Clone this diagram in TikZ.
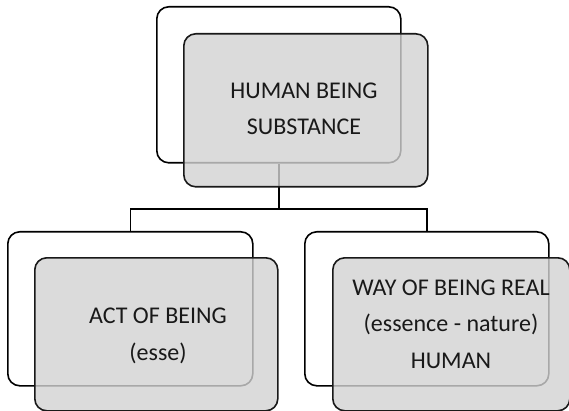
\documentclass[tikz,border=0pt]{standalone}
\usepackage{fontspec}
\setmainfont{Carlito}
\begin{document}
\begin{tikzpicture}[x=1pt,y=-1pt,
  backbox/.style={draw=black, line width=1.6pt, rounded corners=12pt, fill=white,
    anchor=north west, inner sep=0pt},
  frontbox/.style={draw=black!90, line width=1.6pt, rounded corners=12pt,
    fill={rgb,255:red,210;green,210;blue,210}, fill opacity=0.8,
    anchor=north west, inner sep=0pt},
  boxtext/.style={align=center, font=\fontsize{24}{36.5}\selectfont, text=black!90},
  link/.style={draw=black, line width=1.6pt}]
\useasboundingbox (0,0) rectangle (569,411);

% back frames
\node[backbox, minimum width=244pt, minimum height=156pt] (tb) at (156,6) {};
\node[backbox, minimum width=245pt, minimum height=154pt] (lb) at (7,231) {};
\node[backbox, minimum width=244pt, minimum height=154pt] (rb) at (304,231) {};

% tree connectors
\coordinate (mid) at (277,209);
\draw[link] (tb.south) -- (tb.south |- mid) -| (lb.north);
\draw[link] (tb.south |- mid) -| (rb.north);

% translucent front boxes
\node[frontbox, minimum width=244pt, minimum height=153pt] (tf) at (183,33) {};
\node[frontbox, minimum width=243pt, minimum height=153pt] (lf) at (34,257) {};
\node[frontbox, minimum width=237pt, minimum height=153pt] (rf) at (332,257) {};

% labels
\node[boxtext] (tt) at (304,109) {HUMAN BEING\\SUBSTANCE};
\node[boxtext] (lt) at (158,336) {ACT OF BEING\\(esse)};
\node[boxtext] (rt) at (451,324) {WAY OF BEING REAL\\(essence - nature)\\HUMAN};
\end{tikzpicture}
\end{document}
